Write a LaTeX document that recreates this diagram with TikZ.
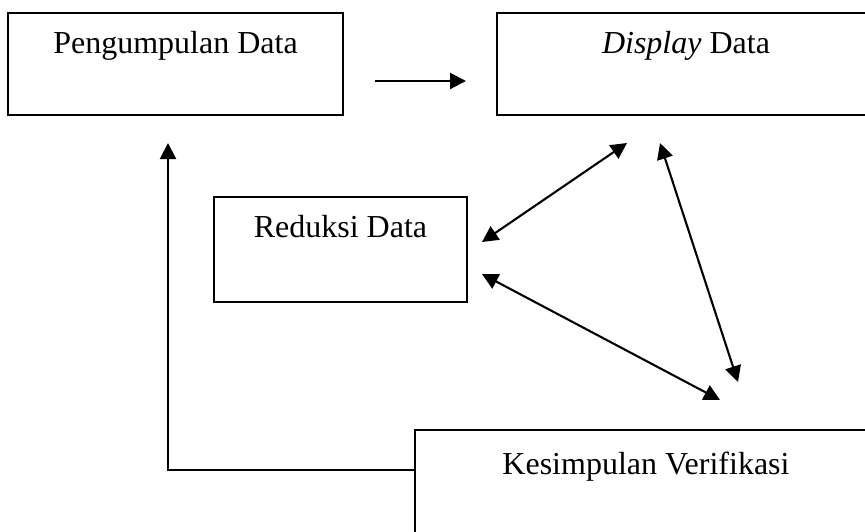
\documentclass[tikz,border=0pt]{standalone}
\usepackage{fontspec}
\setmainfont{Liberation Serif}
\usetikzlibrary{arrows.meta}
\begin{document}
\begin{tikzpicture}[x=1pt,y=-1pt,
  box/.style={draw, line width=2pt, fill=white, inner sep=0pt},
  lbl/.style={font=\fontsize{32}{38}\selectfont, anchor=base, inner sep=0pt},
  conn/.style={line width=2.1pt, -{Triangle[length=16pt,width=16pt]}},
  twoway/.style={line width=2.1pt, {Triangle[length=16pt,width=16pt]}-{Triangle[length=16pt,width=16pt]}}]
\useasboundingbox (0,0) rectangle (865,531);
\clip (0,0) rectangle (865,531);
% boxes
\node[box, minimum width=335pt, minimum height=102pt] (peng) at (175.5,64) {};
\node[box, minimum width=378pt, minimum height=102pt] (disp) at (686,64) {};
\node[box, minimum width=253pt, minimum height=105pt] (red) at (340.5,249.5) {};
\node[box, minimum width=462pt, minimum height=130pt] (kes) at (646,495) {};
% labels
\node[lbl] (pengt) at (175.5,53) {Pengumpulan Data};
\node[lbl] (dispt) at (686,53) {\textit{Display} Data};
\node[lbl] (redt) at (340.5,237) {Reduksi Data};
\node[lbl] (kest) at (646,474) {Kesimpulan Verifikasi};
% connector end points
\coordinate (a1s) at (375,81);
\coordinate (a1e) at (466,81);
\coordinate (rd1) at (482,242);
\coordinate (dr1) at (627,143);
\coordinate (rk1) at (482,274);
\coordinate (kr1) at (720,400);
\coordinate (dk1) at (660,143);
\coordinate (kd1) at (738,382);
\coordinate (kw) at (kes.west |- 0,470);
\coordinate (pu) at (168,143);
% connectors
\draw[conn] (a1s) -- (a1e);
\draw[twoway] (rd1) -- (dr1);
\draw[twoway] (rk1) -- (kr1);
\draw[twoway] (dk1) -- (kd1);
\draw[conn] (kw) -| (pu);
\end{tikzpicture}
\end{document}
